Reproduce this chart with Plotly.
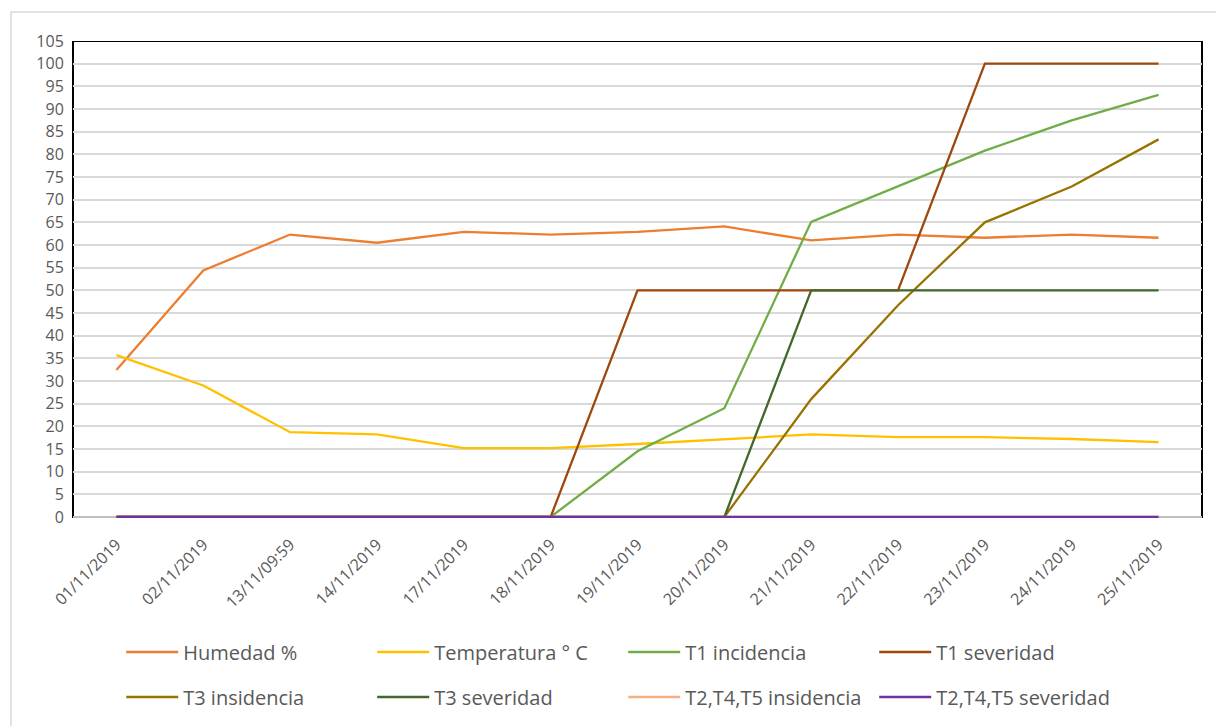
import plotly.graph_objects as go

# Fechas de muestreo (eje de categorías)
fechas = [
    "01/11/2019", "02/11/2019", "13/11/09:59", "14/11/2019", "17/11/2019",
    "18/11/2019", "19/11/2019", "20/11/2019", "21/11/2019", "22/11/2019",
    "23/11/2019", "24/11/2019", "25/11/2019",
]

humedad = [32.4, 54.4, 62.3, 60.5, 62.9, 62.3, 62.9, 64.1, 61.0, 62.3, 61.6, 62.3, 61.6]
temperatura = [35.7, 29.0, 18.7, 18.2, 15.2, 15.2, 16.1, 17.2, 18.2, 17.6, 17.6, 17.2, 16.5]
t1_incidencia = [0, 0, 0, 0, 0, 0, 14.5, 24.0, 65.1, 73.0, 80.8, 87.5, 93.1]
t1_severidad = [0, 0, 0, 0, 0, 0, 50, 50, 50, 50, 100, 100, 100]
t3_insidencia = [0, 0, 0, 0, 0, 0, 0, 0, 26.0, 46.7, 65.0, 72.9, 83.3]
t3_severidad = [0, 0, 0, 0, 0, 0, 0, 0, 50, 50, 50, 50, 50]
t245_insidencia = [0] * 13
t245_severidad = [0] * 13

series = [
    ("Humedad %", humedad, "#ED7D31", "legend"),
    ("Temperatura ° C", temperatura, "#FFC000", "legend"),
    ("T1 incidencia", t1_incidencia, "#70AD47", "legend"),
    ("T1 severidad", t1_severidad, "#9E480E", "legend"),
    ("T3 insidencia", t3_insidencia, "#997300", "legend2"),
    ("T3 severidad", t3_severidad, "#43682B", "legend2"),
    ("T2,T4,T5 insidencia", t245_insidencia, "#F4B183", "legend2"),
    ("T2,T4,T5 severidad", t245_severidad, "#7030A0", "legend2"),
]

FONT = "'Open Sans', 'Noto Sans', sans-serif"
GREY_TXT = "#595959"
Y_MAX = 105
Y_MIN = -0.45  # deja sitio bajo el cero para que las líneas en 0 no se recorten

fig = go.Figure()
for name, vals, color, leg in series:
    fig.add_trace(go.Scatter(
        x=fechas, y=vals, name=name, mode="lines",
        line=dict(color=color, width=2.3),
        legend=leg,
    ))

# dos filas de leyenda, cuatro entradas cada una
legend_common = dict(
    orientation="h",
    xref="paper",
    yref="container",
    xanchor="left",
    yanchor="middle",
    entrywidth=184,
    entrywidthmode="pixels",
    itemwidth=52,
    bgcolor="rgba(0,0,0,0)",
    font=dict(family=FONT, size=20, color=GREY_TXT),
    traceorder="normal",
)

fig.update_layout(
    width=1216,
    height=726,
    margin=dict(l=73, r=14, t=41, b=207, autoexpand=False),
    paper_bgcolor="white",
    plot_bgcolor="white",
    font=dict(family=FONT, color=GREY_TXT),
    showlegend=True,
    legend=dict(legend_common, x=0.0427, y=1 - 652 / 726),
    legend2=dict(legend_common, x=0.0427, y=1 - 697 / 726),
    xaxis=dict(
        type="category",
        range=[-0.5, 12.5],
        tickangle=-45,
        tickfont=dict(family=FONT, size=16, color=GREY_TXT),
        showgrid=False,
        showline=False,
        ticks="outside",
        ticklen=9,
        tickcolor="rgba(0,0,0,0)",
        zeroline=False,
    ),
    yaxis=dict(
        range=[Y_MIN, Y_MAX],
        dtick=5,
        tick0=0,
        tickfont=dict(family=FONT, size=16, color=GREY_TXT),
        showgrid=True,
        gridcolor="#D9D9D9",
        gridwidth=1.5,
        zeroline=True,
        zerolinecolor="#BFBFBF",
        zerolinewidth=1.5,
        showline=False,
        ticks="outside",
        ticklen=5,
        tickcolor="rgba(0,0,0,0)",
    ),
    shapes=[
        # marco exterior del gráfico
        dict(type="rect", xref="paper", yref="paper",
             x0=(11 - 73) / 1129, x1=1.2, y0=-0.6, y1=1 + 29 / 478,
             line=dict(color="#D9D9D9", width=1.5), fillcolor="rgba(0,0,0,0)",
             layer="below"),
        # borde del área de trazado
        dict(type="rect", xref="paper", yref="y",
             x0=0, x1=1, y0=0, y1=Y_MAX,
             line=dict(color="black", width=2), fillcolor="rgba(0,0,0,0)",
             layer="below"),
    ],
)

fig.write_html("out.html")
